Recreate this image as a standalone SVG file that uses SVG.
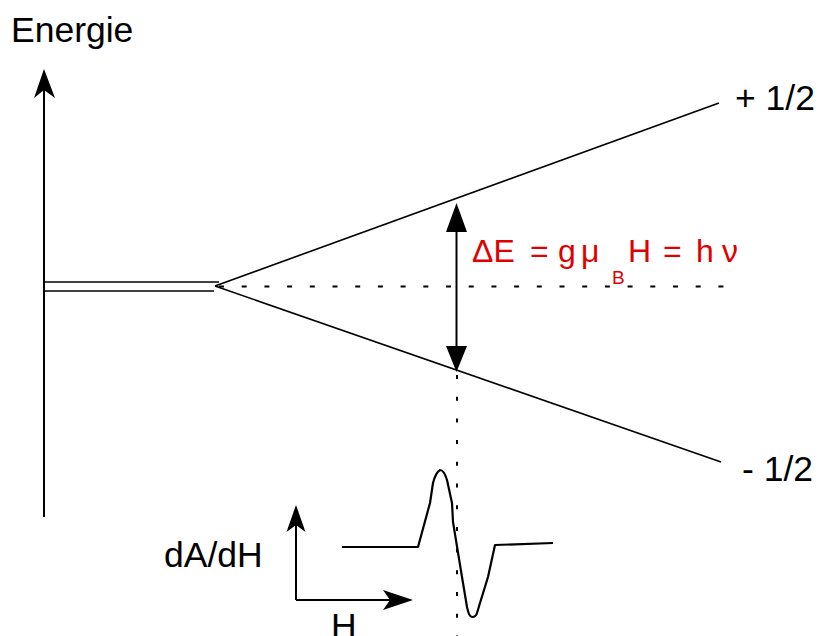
<svg xmlns="http://www.w3.org/2000/svg" width="819" height="636" viewBox="0 0 819 636">
<style>
.ln{stroke:#000;stroke-width:2;fill:none}
.thin{stroke:#000;stroke-width:1.6;fill:none}
.dot{stroke:#000;stroke-width:2;fill:none}
.t{font-family:"Liberation Sans",Arial,sans-serif;font-size:35.5px;fill:#000}
.r{font-family:"Liberation Sans",Arial,sans-serif;font-size:32px;fill:#e10000}
.sub{font-family:"Liberation Sans",Arial,sans-serif;font-size:19px;fill:#e10000}
</style>
<rect width="819" height="636" fill="#fff"/>
<g id="energy-axis">
<line class="ln" x1="44" y1="517" x2="44" y2="85"/>
<path d="M44,69 L55,98 L44,90 L34,98 Z" fill="#000"/>
<text class="t" x="11" y="42">Energie</text>
</g>
<g id="degenerate-level">
<line class="thin" x1="44" y1="282" x2="219" y2="282"/>
<line class="thin" x1="44" y1="291" x2="214" y2="291"/>
</g>
<g id="level-plus">
<line class="thin" x1="215" y1="286" x2="719" y2="103"/>
<text class="t" x="735" y="110">+ 1/2</text>
</g>
<g id="level-minus">
<line class="thin" x1="215" y1="286" x2="721" y2="462"/>
<text class="t" x="742" y="481">- 1/2</text>
</g>
<g id="connectors">
<line class="dot" x1="219" y1="286.5" x2="728" y2="286.5" stroke-dasharray="5 17.7"/>
<line class="dot" x1="457" y1="375" x2="457" y2="636" stroke-dasharray="4 17.7"/>
<line class="ln" x1="456.5" y1="225" x2="456.5" y2="350"/>
<path d="M456.5,203 L467,232 L446,232 Z" fill="#000"/>
<path d="M456.5,372 L467,346 L446,346 Z" fill="#000"/>
</g>
<g id="formula">
<text class="r" y="262"><tspan x="472">ΔE</tspan><tspan x="530">=</tspan><tspan x="558">g</tspan><tspan x="581">μ</tspan><tspan x="628">H</tspan><tspan x="663">=</tspan><tspan x="696">h</tspan><tspan x="722">ν</tspan></text>
<text class="sub" x="612" y="284">B</text>
</g>
<g id="spectrum-axes">
<line class="ln" x1="296" y1="600" x2="296" y2="520"/>
<path d="M296,505 L305.5,532 L296,525 L286.5,532 Z" fill="#000"/>
<line class="ln" x1="296" y1="600" x2="400" y2="600"/>
<path d="M413,600 L383,610 L390,600 L383,590 Z" fill="#000"/>
<text class="t" x="164" y="567">dA/dH</text>
<text class="t" x="331" y="638">H</text>
</g>
<g id="spectrum">
<path d="M342,547 L418,547 L430,503 L433,483 Q436,472 440,470 Q444,470 447,480 L452,503 L453,522 L462,577 L467,607 Q469,617 472,617 Q476,617 477,613 L480,603 L488,577 L495,545 L553,543" stroke="#000" stroke-width="2.2" fill="none" stroke-linejoin="round"/>
</g>
</svg>
